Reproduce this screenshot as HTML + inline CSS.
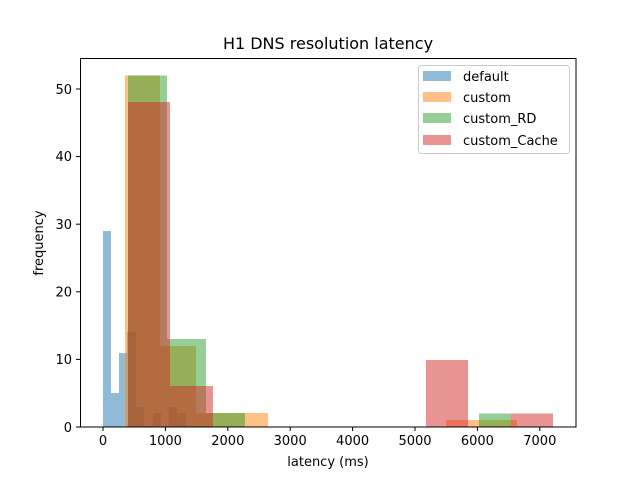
<!DOCTYPE html>
<html><head><meta charset="utf-8"><style>body{margin:0;background:#fff}svg{display:block;font-family:"DejaVu Sans","Liberation Sans",sans-serif}</style></head>
<body>
<svg width="640" height="480" viewBox="0 0 640 480" xmlns="http://www.w3.org/2000/svg">
<rect width="640" height="480" fill="#fff"/>
<g fill="#1f77b4" fill-opacity="0.5">
<rect x="103" y="231" width="8" height="196"/>
<rect x="111" y="393" width="8" height="34"/>
<rect x="119" y="353" width="8" height="74"/>
<rect x="127" y="332" width="9" height="95"/>
<rect x="136" y="407" width="8" height="20"/>
<rect x="153" y="413" width="8" height="14"/>
<rect x="169" y="407" width="8" height="20"/>
<rect x="177" y="413" width="9" height="14"/>
</g>
<g fill="#ff7f0e" fill-opacity="0.5">
<rect x="125" y="75.5" width="35" height="351.5"/>
<rect x="160" y="346" width="36" height="81"/>
<rect x="196" y="413" width="17" height="14"/>
<rect x="213" y="413" width="55" height="14"/>
<rect x="446" y="420" width="71" height="7"/>
</g>
<g fill="#2ca02c" fill-opacity="0.5">
<rect x="128" y="75.5" width="39" height="351.5"/>
<rect x="167" y="339" width="39" height="88"/>
<rect x="206" y="413" width="39" height="14"/>
<rect x="479" y="413.5" width="32" height="13.5"/>
</g>
<g fill="#d62728" fill-opacity="0.5">
<rect x="128" y="102" width="42" height="325"/>
<rect x="170" y="386" width="43" height="41"/>
<rect x="426" y="360" width="42" height="67"/>
<rect x="511" y="413.5" width="42" height="13.5"/>
</g>
<rect x="80.5" y="58.5" width="495.5" height="368.5" fill="none" stroke="#000" stroke-width="1"/>
<g stroke="#000" stroke-width="1">
<line x1="103" y1="427" x2="103" y2="431"/><line x1="165.4" y1="427" x2="165.4" y2="431"/><line x1="227.8" y1="427" x2="227.8" y2="431"/><line x1="290.2" y1="427" x2="290.2" y2="431"/><line x1="352.6" y1="427" x2="352.6" y2="431"/><line x1="415" y1="427" x2="415" y2="431"/><line x1="477.4" y1="427" x2="477.4" y2="431"/><line x1="539.8" y1="427" x2="539.8" y2="431"/>
<line x1="76" y1="427" x2="80.5" y2="427"/><line x1="76" y1="359.4" x2="80.5" y2="359.4"/><line x1="76" y1="291.8" x2="80.5" y2="291.8"/><line x1="76" y1="224.2" x2="80.5" y2="224.2"/><line x1="76" y1="156.6" x2="80.5" y2="156.6"/><line x1="76" y1="89" x2="80.5" y2="89"/>
</g>
<g font-size="13" text-anchor="middle" fill="#000">
<text x="103" y="445">0</text><text x="165.4" y="445">1000</text><text x="227.8" y="445">2000</text><text x="290.2" y="445">3000</text><text x="352.6" y="445">4000</text><text x="415" y="445">5000</text><text x="477.4" y="445">6000</text><text x="539.8" y="445">7000</text>
</g>
<g font-size="13" text-anchor="end" fill="#000">
<text x="72" y="432">0</text><text x="72" y="364">10</text><text x="72" y="296.5">20</text><text x="72" y="229">30</text><text x="72" y="161">40</text><text x="72" y="94">50</text>
</g>
<text x="328" y="466" font-size="13" text-anchor="middle">latency (ms)</text>
<text transform="translate(43,243) rotate(-90)" font-size="13" text-anchor="middle">frequency</text>
<text x="328" y="49" font-size="16" text-anchor="middle">H1 DNS resolution latency</text>
<rect x="418.5" y="65.5" width="151" height="88" rx="3" fill="#fff" fill-opacity="0.8" stroke="#ccc"/>
<rect x="423" y="71" width="28" height="10" fill="#1f77b4" fill-opacity="0.5"/>
<rect x="423" y="92" width="28" height="10" fill="#ff7f0e" fill-opacity="0.5"/>
<rect x="423" y="113" width="28" height="10" fill="#2ca02c" fill-opacity="0.5"/>
<rect x="423" y="135" width="28" height="10" fill="#d62728" fill-opacity="0.5"/>
<g font-size="13" fill="#000">
<text x="463" y="81">default</text><text x="463" y="102">custom</text><text x="463" y="123">custom_RD</text><text x="463" y="145">custom_Cache</text>
</g>
</svg>
</body></html>
